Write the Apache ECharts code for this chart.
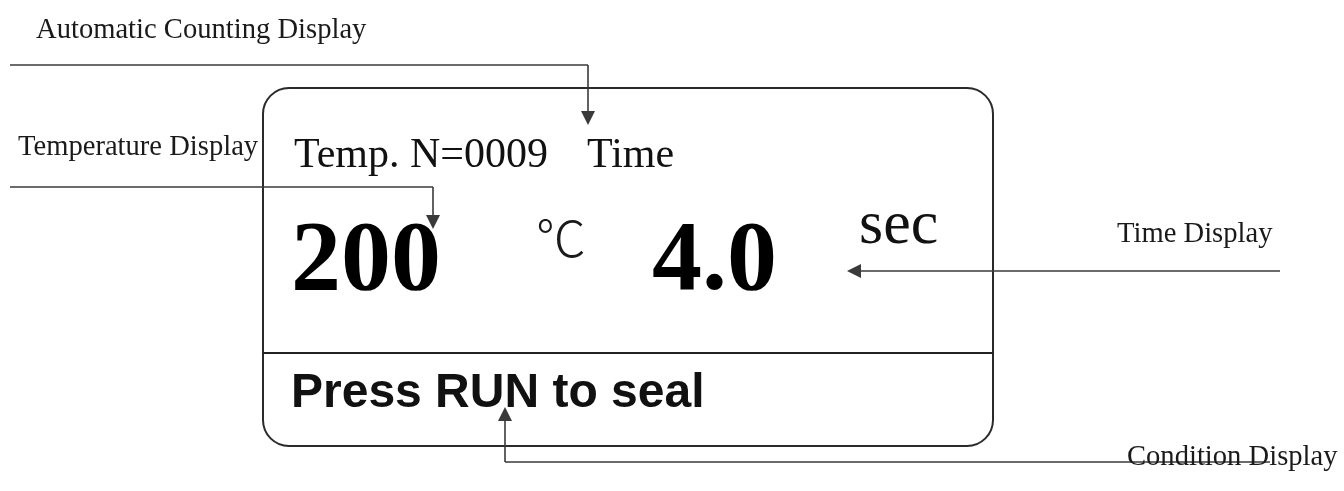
<!DOCTYPE html>
<html>
<head>
<meta charset="utf-8">
<script src="https://cdn.jsdelivr.net/npm/echarts@6/dist/echarts.min.js"></script>
<style>html,body{margin:0;padding:0;background:#fff;}#c{width:1344px;height:491px;}</style>
</head>
<body>
<div id="c"></div>
<script>
// Canvas-sized value space (x: 0..1344, y: 0..491 top-down)
var xRange = [0, 1344];
var yRange = [0, 491];

// Display panel outline (rounded box) and divider
var panelBox = [[263, 88], [993, 446]];
var dividerLine = [[263, 353], [993, 353]];

// Connector paths: plain segments, then final segments ending in an arrowhead
var connectorPlain = [
  [[10, 65], [588, 65]],
  [[10, 187], [433, 187]],
  [[1270, 462], [505, 462]]
];
var connectorArrow = [
  [[588, 65], [588, 118]],
  [[433, 187], [433, 222]],
  [[1280, 271], [854, 271]],
  [[505, 462], [505, 414]]
];

// Callout labels [x, y(middle), text]
var calloutLabels = [
  [36, 30, 'Automatic Counting Display'],
  [18, 147, 'Temperature Display'],
  [1117, 234, 'Time Display'],
  [1127, 457, 'Condition Display']
];

// Display content [x, y(middle), text, kind]
var displayTexts = [
  [294, 156, 'Temp. N=0009', 'head'],
  [587, 156, 'Time', 'head'],
  [291, 263, '200', 'big'],
  [536, 238, '\u2103', 'unitC'],
  [652, 263, '4.0', 'big'],
  [859, 227, 'sec', 'unitS'],
  [291, 394, 'Press RUN to seal', 'status']
];

var textStyles = {
  callout: {fontFamily: 'Liberation Serif', fontSize: 28.6, fontWeight: 'normal', fill: '#1a1a1a'},
  head: {fontFamily: 'Liberation Serif', fontSize: 42, fontWeight: 'normal', fill: '#111'},
  big: {fontFamily: 'Liberation Serif', fontSize: 100, fontWeight: 'bold', fill: '#000'},
  unitC: {fontFamily: 'Noto Sans CJK SC', fontSize: 50, fontWeight: 300, fill: '#1a1a1a'},
  unitS: {fontFamily: 'Liberation Serif', fontSize: 62, fontWeight: 'normal', fill: '#111'},
  status: {fontFamily: 'Liberation Sans', fontSize: 48, fontWeight: 'bold', fill: '#111'}
};

var lineColor = '#3a3a3a';

function textSeries(rows, styleFor) {
  return {
    type: 'custom',
    silent: true,
    z: 5,
    data: rows.map(function (r) { return [r[0], r[1]]; }),
    renderItem: function (params, api) {
      var r = rows[params.dataIndex];
      var c = api.coord([api.value(0), api.value(1)]);
      var st = styleFor(r);
      return {
        type: 'text',
        x: c[0],
        y: c[1],
        style: {
          text: r[2],
          fontFamily: st.fontFamily,
          fontSize: st.fontSize,
          fontWeight: st.fontWeight,
          fill: st.fill,
          align: 'left',
          verticalAlign: 'middle'
        }
      };
    }
  };
}

var chart = echarts.init(document.getElementById('c'), null, {renderer: 'canvas'});
chart.setOption({
  animation: false,
  backgroundColor: '#fff',
  grid: {left: 0, right: 0, top: 0, bottom: 0},
  xAxis: {type: 'value', min: xRange[0], max: xRange[1], show: false},
  yAxis: {type: 'value', min: yRange[0], max: yRange[1], inverse: true, show: false},
  series: [
    {
      type: 'custom',
      silent: true,
      z: 1,
      data: [0],
      renderItem: function (params, api) {
        var p0 = api.coord(panelBox[0]);
        var p1 = api.coord(panelBox[1]);
        return {
          type: 'rect',
          shape: {x: p0[0], y: p0[1], width: p1[0] - p0[0], height: p1[1] - p0[1], r: 26},
          style: {fill: 'none', stroke: '#2a2a2a', lineWidth: 2}
        };
      }
    },
    {
      type: 'lines',
      coordinateSystem: 'cartesian2d',
      silent: true,
      z: 2,
      symbol: 'none',
      lineStyle: {color: lineColor, width: 1.6, opacity: 1},
      data: connectorPlain.map(function (s) { return {coords: s}; })
    },
    {
      type: 'lines',
      coordinateSystem: 'cartesian2d',
      silent: true,
      z: 2,
      symbol: 'none',
      lineStyle: {color: '#222', width: 2.2, opacity: 1},
      data: [{coords: dividerLine}]
    },
    {
      type: 'lines',
      coordinateSystem: 'cartesian2d',
      silent: true,
      z: 2,
      symbol: ['none', 'triangle'],
      symbolSize: [0, 14],
      lineStyle: {color: lineColor, width: 1.6, opacity: 1},
      itemStyle: {color: '#111'},
      data: connectorArrow.map(function (s) { return {coords: s}; })
    },
    textSeries(calloutLabels, function () { return textStyles.callout; }),
    textSeries(displayTexts, function (r) { return textStyles[r[3]]; })
  ]
});
</script>
</body>
</html>
